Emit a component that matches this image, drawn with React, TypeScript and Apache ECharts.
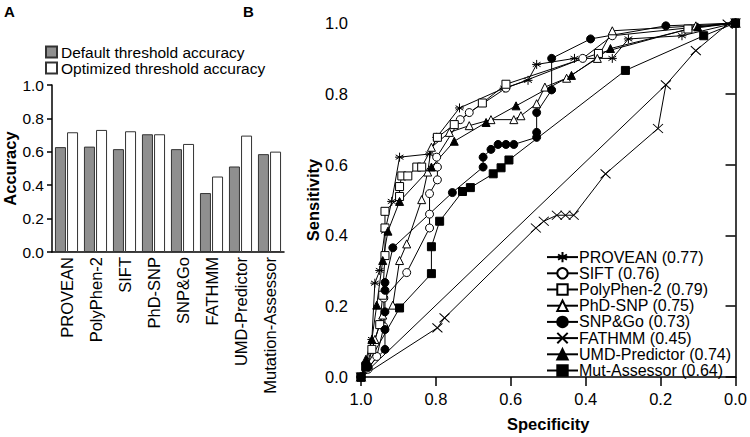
import React, { useEffect, useRef } from "react";
import * as echarts from "echarts";

const categories = ["PROVEAN", "PolyPhen-2", "SIFT", "PhD-SNP", "SNP&Go", "FATHMM", "UMD-Predictor", "Mutation-Assessor"];
const defaultAcc = [0.628, 0.631, 0.616, 0.705, 0.616, 0.353, 0.512, 0.586];
const optimizedAcc = [0.717, 0.731, 0.723, 0.705, 0.647, 0.452, 0.697, 0.601];
const accTicks = [0, 0.2, 0.4, 0.6, 0.8, 1.0];

// ROC points: [specificity, sensitivity]
const provean = [[1, 0], [0.987, 0.036], [0.971, 0.106], [0.963, 0.265], [0.95, 0.301], [0.936, 0.412], [0.918, 0.496], [0.897, 0.621], [0.817, 0.63], [0.798, 0.677], [0.737, 0.76], [0.618, 0.816], [0.554, 0.838], [0.531, 0.883], [0.43, 0.9], [0.329, 0.9], [0.286, 0.955], [0.143, 0.964], [0, 1]];
const sift = [[1, 0], [0.981, 0.022], [0.958, 0.058], [0.939, 0.142], [0.939, 0.223], [0.878, 0.295], [0.817, 0.421], [0.817, 0.46], [0.817, 0.518], [0.796, 0.557], [0.796, 0.593], [0.798, 0.621], [0.735, 0.727], [0.711, 0.747], [0.613, 0.816], [0.408, 0.9], [0.329, 0.964], [0, 1]];
const polyphen = [[1, 0], [0.987, 0.031], [0.971, 0.078], [0.95, 0.148], [0.942, 0.231], [0.936, 0.343], [0.936, 0.421], [0.936, 0.468], [0.897, 0.51], [0.897, 0.538], [0.891, 0.568], [0.875, 0.568], [0.851, 0.593], [0.838, 0.593], [0.796, 0.677], [0.751, 0.713], [0.676, 0.774], [0.613, 0.827], [0.366, 0.914], [0.127, 0.983], [0, 1]];
const phdsnp = [[1, 0], [0.981, 0.036], [0.963, 0.106], [0.942, 0.175], [0.915, 0.203], [0.897, 0.329], [0.878, 0.376], [0.838, 0.501], [0.822, 0.579], [0.812, 0.649], [0.764, 0.691], [0.711, 0.71], [0.653, 0.727], [0.592, 0.727], [0.573, 0.738], [0.531, 0.772], [0.509, 0.819], [0.451, 0.844], [0.369, 0.9], [0.329, 0.978], [0.106, 0.992], [0, 1]];
const snpgo = [[1, 0], [0.981, 0.028], [0.936, 0.078], [0.936, 0.134], [0.936, 0.184], [0.936, 0.245], [0.936, 0.267], [0.915, 0.365], [0.756, 0.521], [0.674, 0.593], [0.674, 0.621], [0.653, 0.643], [0.634, 0.657], [0.613, 0.657], [0.592, 0.657], [0.531, 0.677], [0.531, 0.691], [0.531, 0.747], [0.491, 0.811], [0.491, 0.9], [0.387, 0.955], [0.186, 0.992], [0, 1]];
const fathmm = [[1, 0], [0.796, 0.139], [0.777, 0.167], [0.533, 0.421], [0.512, 0.44], [0.477, 0.457], [0.454, 0.457], [0.432, 0.457], [0.347, 0.574], [0.207, 0.702], [0.186, 0.825], [0.106, 0.922], [0.021, 0.997], [0, 1]];
const fathmmLink = [[1, 0], [0.186, 0.825]];
const umd = [[1, 0], [0.987, 0.05], [0.971, 0.106], [0.958, 0.203], [0.942, 0.329], [0.928, 0.412], [0.897, 0.496], [0.812, 0.593], [0.751, 0.666], [0.666, 0.719], [0.586, 0.766], [0.438, 0.852], [0.334, 0.928], [0.101, 0.989], [0, 1]];
const mutassessor = [[1, 0], [0.987, 0.028], [0.897, 0.195], [0.812, 0.292], [0.812, 0.368], [0.79, 0.44], [0.729, 0.524], [0.708, 0.535], [0.647, 0.574], [0.626, 0.591], [0.605, 0.613], [0.294, 0.866], [0.085, 0.964], [0, 1]];

const rocNames = ["PROVEAN (0.77)", "SIFT (0.76)", "PolyPhen-2 (0.79)", "PhD-SNP (0.75)", "SNP&Go (0.73)", "FATHMM (0.45)", "UMD-Predictor (0.74)", "Mut-Assessor (0.64)"];

const FONT = "Liberation Sans, Arial, Helvetica, sans-serif";
const ASTERISK = "path://M5,0L5,10M0.7,2.5L9.3,7.5M0.7,7.5L9.3,2.5M0,5L10,5";
const XMARK = "path://M0,0L10,10M0,10L10,0";

export default function App() {
  const ref = useRef<HTMLDivElement>(null);
  useEffect(() => {
    if (!ref.current) return;
    const chart = echarts.init(ref.current, null, { renderer: "svg" });
    const fmt = (v: number) => v.toFixed(1);
    const lineSeries = (name: string, data: number[][], symbol: string, filled: boolean, size: number | number[] = 7) => ({
      type: "line",
      name,
      xAxisIndex: 1,
      yAxisIndex: 1,
      data,
      symbol,
      symbolSize: size,
      showAllSymbol: true,
      lineStyle: { color: "#000", width: 1 },
      itemStyle: { color: filled ? "#000" : "#fff", borderColor: "#000", borderWidth: 1 },
      z: 3,
    });
    const titleStyle = { fontSize: 16.5, fontWeight: "bold", color: "#000", fontFamily: FONT };
    const option: any = {
      animation: false,
      backgroundColor: "#fff",
      textStyle: { fontFamily: FONT, color: "#000" },
      graphic: [
        { type: "text", left: 4, top: 4, style: { text: "A", font: `bold 15px ${FONT}`, fill: "#000" } },
        { type: "text", left: 243, top: 4, style: { text: "B", font: `bold 15px ${FONT}`, fill: "#000" } },
      ],
      legend: [
        {
          data: ["Default threshold accuracy", "Optimized threshold accuracy"],
          orient: "vertical",
          left: 45,
          top: 44,
          padding: 0,
          itemWidth: 11,
          itemHeight: 11,
          itemGap: 0,
          icon: "rect",
          textStyle: { fontSize: 15.5, lineHeight: 16, color: "#000", fontFamily: FONT, padding: [0, 0, 0, -1] },
        },
        {
          data: rocNames,
          orient: "vertical",
          left: 546,
          top: 249,
          padding: 0,
          itemWidth: 31,
          itemHeight: 13,
          itemGap: 0,
          textStyle: { fontSize: 16, lineHeight: 16.2, color: "#000", fontFamily: FONT, padding: [0, 0, 0, -4] },
        },
      ],
      grid: [
        { left: 52, top: 85, width: 232, height: 167 },
        { left: 361, top: 23, width: 377, height: 360 },
      ],
      xAxis: [
        {
          type: "category",
          gridIndex: 0,
          data: categories,
          axisLine: { lineStyle: { color: "#000", width: 1.5 } },
          axisTick: { interval: 0, length: 6, lineStyle: { color: "#000", width: 1.5 } },
          axisLabel: { rotate: 90, interval: 0, fontSize: 16.5, color: "#000", margin: 5, fontFamily: FONT },
        },
        {
          type: "value",
          gridIndex: 1,
          min: 0,
          max: 1,
          interval: 0.2,
          inverse: true,
          name: "Specificity",
          nameLocation: "middle",
          nameGap: 38,
          nameTextStyle: titleStyle,
          splitLine: { show: false },
          axisLine: { lineStyle: { color: "#000", width: 1.5 } },
          axisTick: { length: 9, lineStyle: { color: "#000", width: 1.5 } },
          axisLabel: { formatter: fmt, fontSize: 16.5, color: "#000", margin: 13, fontFamily: FONT },
        },
      ],
      yAxis: [
        {
          type: "value",
          gridIndex: 0,
          min: accTicks[0],
          max: accTicks[accTicks.length - 1],
          interval: 0.2,
          name: "Accuracy",
          nameLocation: "middle",
          nameGap: 34,
          nameTextStyle: titleStyle,
          splitLine: { show: false },
          axisLine: { show: true, lineStyle: { color: "#000", width: 1.5 } },
          axisTick: { show: true, length: 5, lineStyle: { color: "#000", width: 1.5 } },
          axisLabel: { formatter: fmt, fontSize: 15.5, color: "#000", margin: 8, fontFamily: FONT },
        },
        {
          type: "value",
          gridIndex: 1,
          min: 0,
          max: 1,
          interval: 0.2,
          name: "Sensitivity",
          nameLocation: "middle",
          nameGap: 40,
          nameTextStyle: titleStyle,
          splitLine: { show: false },
          axisLine: { show: true, lineStyle: { color: "#000", width: 1.5 } },
          axisTick: { show: true, length: 10, lineStyle: { color: "#000", width: 1.5 } },
          axisLabel: { formatter: fmt, fontSize: 16.5, color: "#000", margin: 13, fontFamily: FONT },
        },
      ],
      series: [
        {
          type: "bar",
          name: "Default threshold accuracy",
          xAxisIndex: 0,
          yAxisIndex: 0,
          data: defaultAcc,
          barWidth: 11,
          barGap: "10%",
          itemStyle: { color: "#8f8f8f", borderColor: "#333", borderWidth: 1 },
        },
        {
          type: "bar",
          name: "Optimized threshold accuracy",
          xAxisIndex: 0,
          yAxisIndex: 0,
          data: optimizedAcc,
          barWidth: 11,
          barGap: "10%",
          itemStyle: { color: "#fff", borderColor: "#333", borderWidth: 1 },
        },
        {
          type: "line",
          name: "fathmm-link",
          xAxisIndex: 1,
          yAxisIndex: 1,
          data: fathmmLink,
          showSymbol: false,
          lineStyle: { color: "#000", width: 1 },
          itemStyle: { color: "#000" },
        },
        lineSeries(rocNames[0], provean, ASTERISK, false, 9),
        lineSeries(rocNames[1], sift, "circle", false, 8),
        lineSeries(rocNames[2], polyphen, "rect", false, 8),
        lineSeries(rocNames[3], phdsnp, "triangle", false, 8),
        lineSeries(rocNames[4], snpgo, "circle", true, 8),
        lineSeries(rocNames[5], fathmm, XMARK, false, [10, 9]),
        lineSeries(rocNames[6], umd, "triangle", true, 8),
        lineSeries(rocNames[7], mutassessor, "rect", true, 8),
      ],
    };
    chart.setOption(option);
    return () => chart.dispose();
  }, []);
  return <div ref={ref} style={{ position: "fixed", left: 0, top: 0, width: 750, height: 437, background: "#fff" }} />;
}
